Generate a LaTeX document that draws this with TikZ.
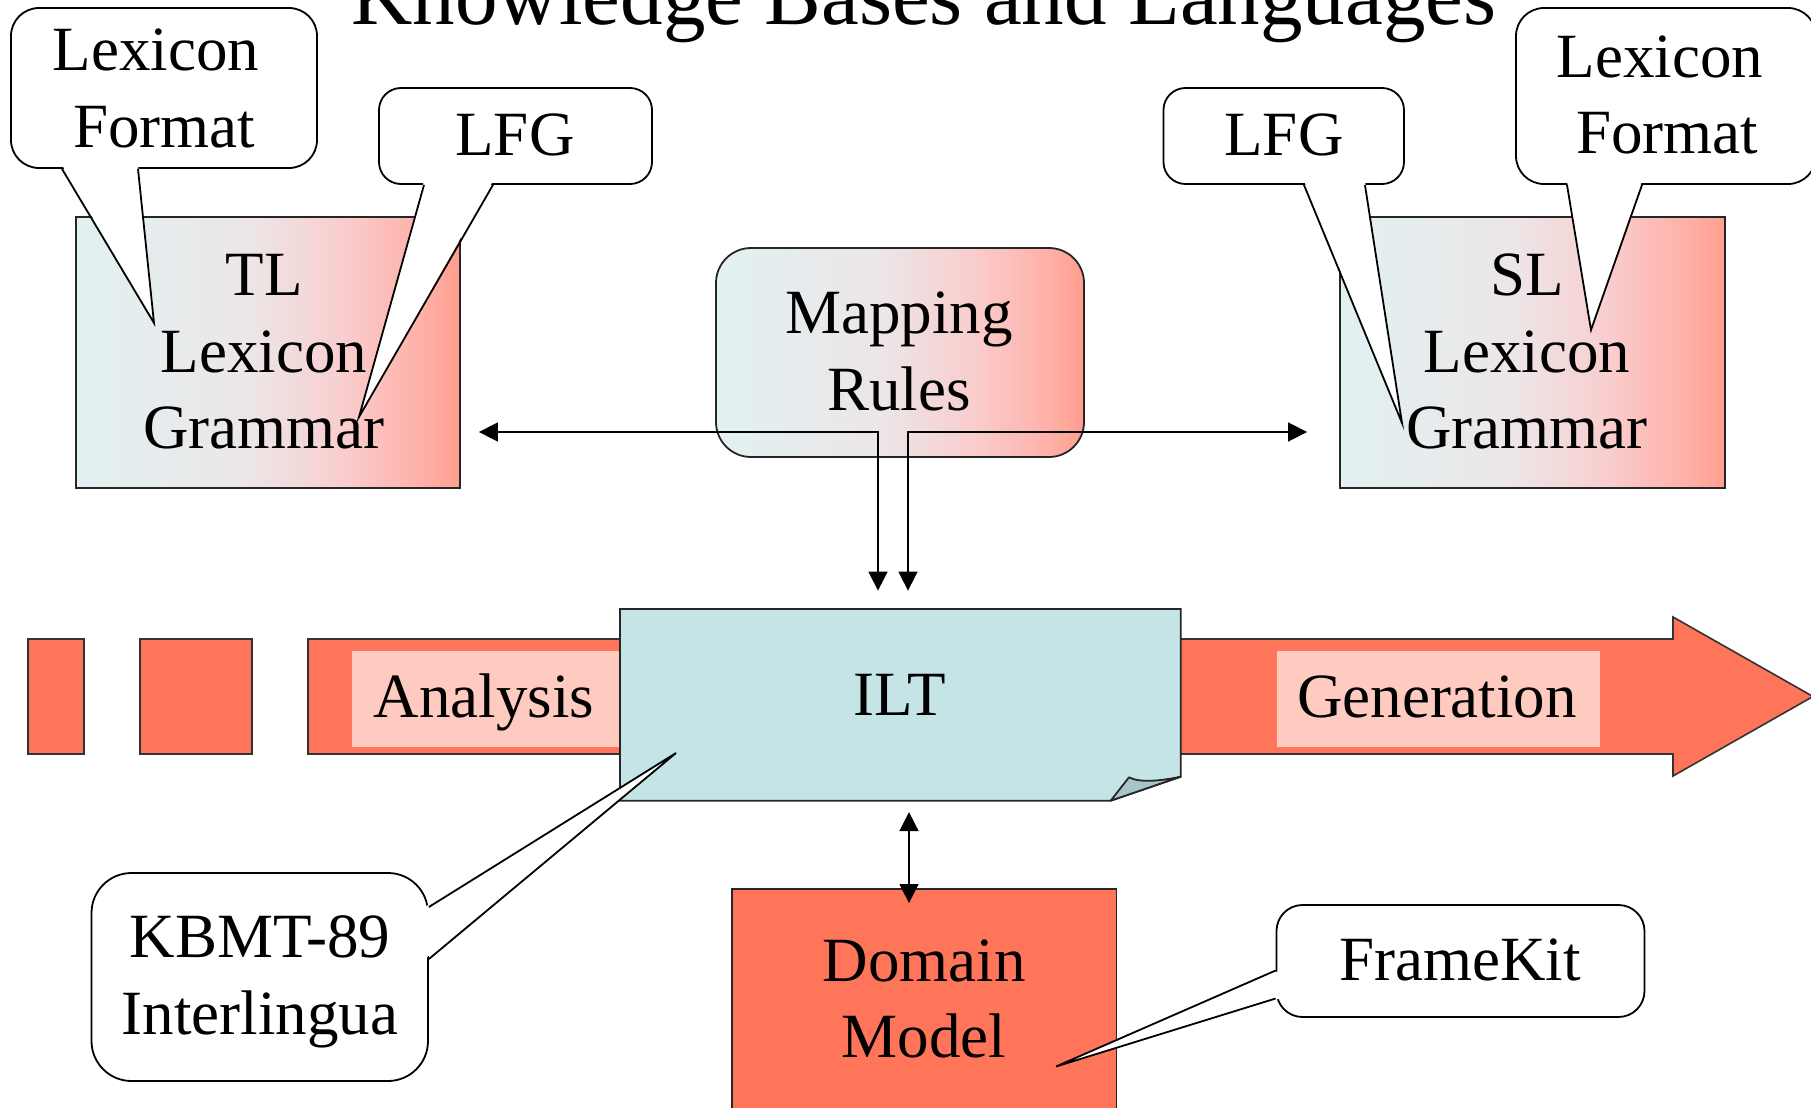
\documentclass[tikz,border=0pt]{standalone}
\usepackage{fontspec}
\setmainfont{Liberation Serif}
\usetikzlibrary{arrows.meta}

\definecolor{bandc}{RGB}{255,117,90}
\definecolor{hlc}{RGB}{255,202,192}
\definecolor{iltc}{RGB}{197,228,230}
\definecolor{foldc}{RGB}{168,196,200}
\definecolor{gA}{RGB}{226,241,242}
\definecolor{gB}{RGB}{236,230,232}
\definecolor{gC}{RGB}{249,205,205}
\definecolor{gD}{RGB}{255,176,168}
\definecolor{gE}{RGB}{255,158,142}

% light cyan to salmon, left to right
\pgfdeclarehorizontalshading{kbshade}{100bp}{color(0bp)=(gA); color(25bp)=(gA);
  color(47.5bp)=(gB); color(60bp)=(gC); color(70bp)=(gD); color(75bp)=(gE); color(100bp)=(gE)}

\newcommand\kbfont{\fontsize{31.5pt}{38pt}\selectfont}
\newcommand\kbtitlefont{\fontsize{42.5pt}{50pt}\selectfont}

\tikzset{
  lbl/.style={font=\kbfont, anchor=base, inner sep=0pt},
  gradbox/.style={draw=black!85, line width=0.9pt, shade, shading=kbshade, inner sep=0pt},
  plainbox/.style={draw=black!85, line width=0.9pt, inner sep=0pt},
  callout/.style={draw=black, line width=0.9pt, fill=white, inner sep=0pt},
  tailfill/.style={fill=white},
  tailline/.style={draw=black, line width=0.9pt, line join=miter},
  dbl/.style={line width=0.8pt,
    {Triangle[length=9.5pt,width=9.5pt]}-{Triangle[length=9.5pt,width=9.5pt]}},
}

\begin{document}
\begin{tikzpicture}[x=0.5pt,y=-0.5pt]
\clip (0,0) rectangle (1811,1108);

% title (partly above the frame)
\node[font=\kbtitlefont, anchor=base, inner sep=0pt] (title) at (924,25) {Knowledge Bases and Languages};

% process band: dashes and the long arrow
\filldraw[fill=bandc, draw=black!80, line width=0.8pt] (28,639) rectangle (84,754);
\filldraw[fill=bandc, draw=black!80, line width=0.8pt] (140,639) rectangle (252,754);
\filldraw[fill=bandc, draw=black!80, line width=0.8pt]
  (308,639) -- (1673,639) -- (1673,617) -- (1813,696.5) -- (1673,776) -- (1673,754) -- (308,754) -- cycle;
\fill[hlc] (352,651) rectangle (620,747);
\fill[hlc] (1276.5,651) rectangle (1600,747);
\node[lbl] (tAna) at (484,717) {Analysis};
\node[lbl] (tGen) at (1437,717) {Generation};

% interlingua text: sheet with a turned-up corner
\filldraw[fill=iltc, draw=black!85, line width=0.9pt]
  (620,609) -- (1180.7,609) -- (1180.7,776.7) -- (1110.7,800.7) -- (620,800.7) -- cycle;
\filldraw[fill=foldc, draw=black!85, line width=0.9pt, line join=round]
  (1110.7,800.7) -- (1129,777.3) .. controls (1140,783) and (1160,781) .. (1180.7,776.7) -- cycle;
\node[minimum width=280pt, minimum height=95.85pt, inner sep=0pt] (ilt) at (900,704.85) {};
\node[lbl] (tILT) at (900,715) {ILT};

% domain model
\node[plainbox, fill=bandc, minimum width=192.25pt, minimum height=120.5pt] (dom) at (924.25,1009.5) {};
\node[lbl] (tDom1) at (924,981) {Domain};
\node[lbl] (tDom2) at (924,1057) {Model};

% target and source language boxes
\node[gradbox, minimum width=192pt, minimum height=135.5pt] (tl) at (268,352.5) {};
\node[lbl] (tTL1) at (264,295) {TL};
\node[lbl] (tTL2) at (264,372) {Lexicon};
\node[lbl] (tTL3) at (264,448) {Grammar};

\node[gradbox, minimum width=192.5pt, minimum height=135.5pt] (sl) at (1532.5,352.5) {};
\node[lbl] (tSL1) at (1527,295) {SL};
\node[lbl] (tSL2) at (1527,372) {Lexicon};
\node[lbl] (tSL3) at (1527,448) {Grammar};

% mapping rules
\node[gradbox, rounded corners=17.5pt, minimum width=184pt, minimum height=104.5pt] (map) at (900,352.5) {};
\node[lbl] (tMap1) at (899,333) {Mapping};
\node[lbl] (tMap2) at (899,410) {Rules};

% callouts
% Lexicon Format (left)
\node[callout, rounded corners=14pt, minimum width=153pt, minimum height=80pt] (cLF) at (164,88) {};
\coordinate (cLFtip) at (154,323);
\fill[tailfill] ([xshift=-51pt,yshift=2pt]cLF.south) -- (cLFtip) -- ([xshift=-13pt,yshift=2pt]cLF.south) -- cycle;
\draw[tailline] ([xshift=-51pt]cLF.south) -- (cLFtip) -- ([xshift=-13pt]cLF.south);
\node[lbl] (tLF1) at (156,70) {Lexicon};
\node[lbl] (tLF2) at (164,147) {Format};

% LFG (left)
\node[callout, rounded corners=11pt, minimum width=136.5pt, minimum height=48pt] (cLFG) at (515.5,136) {};
\coordinate (cLFGtip) at (359,417);
\fill[tailfill] ([xshift=-45.75pt,yshift=2pt]cLFG.south) -- (cLFGtip) -- ([xshift=-11.25pt,yshift=2pt]cLFG.south) -- cycle;
\draw[tailline] ([xshift=-45.75pt]cLFG.south) -- (cLFGtip) -- ([xshift=-11.25pt]cLFG.south);
\node[lbl] (tLFG) at (515,155) {LFG};

% LFG (right)
\node[callout, rounded corners=11pt, minimum width=120.25pt, minimum height=48pt] (cRLFG) at (1283.75,136) {};
\coordinate (cRLFGtip) at (1402,423);
\fill[tailfill] ([xshift=10.1pt,yshift=2pt]cRLFG.south) -- (cRLFGtip) -- ([xshift=40.6pt,yshift=2pt]cRLFG.south) -- cycle;
\draw[tailline] ([xshift=10.1pt]cRLFG.south) -- (cRLFGtip) -- ([xshift=40.6pt]cRLFG.south);
\node[lbl] (tRLFG) at (1284,155) {LFG};

% Lexicon Format (right)
\node[callout, rounded corners=14pt, minimum width=150pt, minimum height=88pt] (cRLF) at (1666,96) {};
\coordinate (cRLFtip) at (1591,330);
\fill[tailfill] ([xshift=-49.5pt,yshift=2pt]cRLF.south) -- (cRLFtip) -- ([xshift=-12pt,yshift=2pt]cRLF.south) -- cycle;
\draw[tailline] ([xshift=-49.5pt]cRLF.south) -- (cRLFtip) -- ([xshift=-12pt]cRLF.south);
\node[lbl] (tRLF1) at (1660,77) {Lexicon};
\node[lbl] (tRLF2) at (1667,153) {Format};

% KBMT-89 Interlingua
\node[callout, rounded corners=20pt, minimum width=168.25pt, minimum height=104pt] (cKB) at (259.75,977) {};
\coordinate (cKBtip) at (676,753);
\fill[tailfill] ([xshift=-2pt,yshift=35pt]cKB.east) -- (cKBtip) -- ([xshift=-2pt,yshift=9pt]cKB.east) -- cycle;
\draw[tailline] ([yshift=35pt]cKB.east) -- (cKBtip) -- ([yshift=9pt]cKB.east);
\node[lbl] (tKB1) at (260,957) {KBMT-89};
\node[lbl] (tKB2) at (260,1034.5) {Interlingua};

% FrameKit
\node[callout, rounded corners=13pt, minimum width=184pt, minimum height=56pt] (cFK) at (1460.5,961) {};
\coordinate (cFKtip) at (1056,1066.5);
\fill[tailfill] ([xshift=2pt,yshift=-4.75pt]cFK.west) -- (cFKtip) -- ([xshift=2pt,yshift=-18.75pt]cFK.west) -- cycle;
\draw[tailline] ([yshift=-4.75pt]cFK.west) -- (cFKtip) -- ([yshift=-18.75pt]cFK.west);
\node[lbl] (tFK) at (1460,980) {FrameKit};

% connectors
\coordinate (m1) at (878,432);
\coordinate (m2) at (908,432);
\coordinate (m3) at (909,700);
\draw[dbl] ([xshift=9pt]tl.east |- m1) -- (m1) -- ([yshift=9pt]ilt.north -| m1);
\draw[dbl] ([xshift=-16pt]sl.west |- m2) -- (m2) -- ([yshift=9pt]ilt.north -| m2);
\draw[dbl] ([yshift=-5.5pt]ilt.south -| m3) -- ([yshift=-7.5pt]dom.north -| m3);
\end{tikzpicture}
\end{document}
